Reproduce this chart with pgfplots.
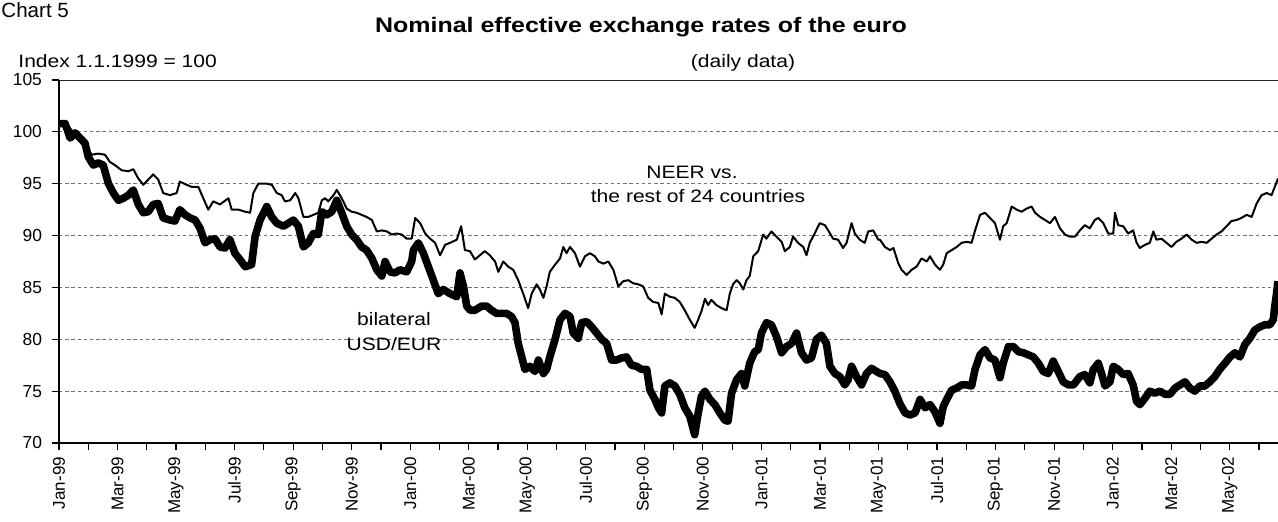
\documentclass[border=0pt]{standalone}
\usepackage{fontspec}
\usepackage{pgfplots}
\pgfplotsset{compat=1.18}
\setmainfont{Liberation Sans}
\newfontfamily\widefont[FakeStretch=1.17]{Liberation Sans}
\newfontfamily\titlefont[FakeStretch=1.19]{Liberation Sans}

% 1 px of the reference = 0.5pt; axis box lower-left = origin
\begin{document}
\begin{tikzpicture}
\useasboundingbox (-29.5pt,-39pt) rectangle (609.5pt,221.5pt);
\begin{axis}[
    at={(0,0)}, anchor=south west,
    scale only axis, width=609.5pt, height=181.5pt,
    xmin=0, xmax=41.65, ymin=70, ymax=105,
    axis x line*=bottom, axis y line*=left,
    axis line style={black, line width=0.8pt, -},
    ytick={70,75,...,105},
    xtick={0,2,...,40},
    minor xtick={1,3,...,41},
    xticklabels={Jan-99,Mar-99,May-99,Jul-99,Sep-99,Nov-99,Jan-00,Mar-00,May-00,Jul-00,Sep-00,Nov-00,Jan-01,Mar-01,May-01,Jul-01,Sep-01,Nov-01,Jan-02,Mar-02,May-02},
    xticklabel style={rotate=90, anchor=east, font=\fontsize{8.5}{10}\selectfont},
    yticklabel style={font=\fontsize{8.7}{10}\selectfont, xshift=-1.5pt},
    /pgf/number format/assume math mode=true,
    tick align=outside,
    major tick length=3.5pt, minor tick length=3.5pt,
    tick style={black, line width=0.6pt},
    ymajorgrids,
    grid style={black!55, line width=0.45pt, dash pattern=on 1.7pt off 1.4pt},
    clip=true,
]
\draw[black!85, line width=0.9pt] (rel axis cs:0,1) -- (rel axis cs:1,1);

% NEER vs. the rest of 24 countries
\addplot[black, line width=1pt, line join=round] coordinates {
(0.00,100.8) (0.32,100.5) (0.66,99.5) (0.89,98.7) (1.12,97.8) (1.34,97.9) (1.57,97.8) (1.74,97.1) (1.91,96.8) (2.14,96.3) (2.37,96.2) (2.54,96.4) (2.71,95.5) (2.88,94.9) (3.05,95.4) (3.22,95.9) (3.39,95.4) (3.56,94.1) (3.79,93.9) (4.02,94.1) (4.13,95.2) (4.36,94.9) (4.53,94.7) (4.76,94.7) (4.93,93.6) (5.10,92.5) (5.27,93.3) (5.50,93.0) (5.79,93.6) (5.90,92.5) (6.13,92.5) (6.36,92.3) (6.53,92.2) (6.64,94.1) (6.81,95.0)
(7.10,95.0) (7.27,94.9) (7.44,94.1) (7.61,93.9) (7.72,93.3) (7.90,93.4) (8.07,94.1) (8.18,93.6) (8.35,91.8) (8.52,91.8) (8.69,92.0) (8.86,92.2) (8.98,93.4) (9.09,93.6) (9.20,93.3) (9.38,93.9) (9.49,94.4) (9.66,93.6) (9.83,92.6) (10.00,92.3) (10.17,92.2) (10.34,92.0) (10.51,91.8) (10.69,91.5) (10.86,90.4) (11.03,90.5) (11.20,90.4) (11.37,90.1) (11.54,90.2) (11.71,90.1) (11.88,89.7) (12.05,89.7) (12.17,91.7) (12.34,91.2) (12.51,90.2) (12.68,89.7) (12.85,89.3) (13.02,88.1) (13.19,89.1) (13.36,89.3) (13.59,89.6) (13.74,90.9) (13.87,88.6)
(14.04,88.5) (14.21,87.7) (14.38,88.1) (14.55,88.5) (14.72,88.1) (14.90,87.5) (15.01,86.5) (15.18,87.5) (15.35,87.0) (15.52,86.7) (15.69,85.7) (15.86,84.4) (16.03,83.0) (16.15,84.4) (16.32,85.3) (16.43,84.8) (16.55,84.0) (16.66,85.1) (16.77,86.5) (16.95,87.2) (17.12,87.8) (17.23,88.9) (17.34,88.3) (17.46,88.9) (17.63,88.3) (17.80,87.0) (17.97,88.0) (18.14,88.3) (18.31,88.0) (18.43,87.5) (18.60,87.3) (18.77,87.5) (18.94,86.7) (19.11,85.1) (19.28,85.6) (19.45,85.7) (19.62,85.4) (19.79,85.3) (19.96,85.1) (20.13,84.0) (20.30,83.6) (20.48,83.5) (20.59,82.4) (20.70,84.4) (20.87,84.1)
(21.04,84.0) (21.21,83.6) (21.38,82.8) (21.55,81.9) (21.72,81.1) (21.84,81.9) (21.95,82.7) (22.07,83.9) (22.18,83.3) (22.29,83.8) (22.46,83.3) (22.64,83.0) (22.81,82.8) (22.92,84.4) (23.03,85.3) (23.15,85.7) (23.26,85.4) (23.38,84.8) (23.49,85.7) (23.60,86.1) (23.72,88.0) (23.89,88.5) (24.06,90.1) (24.17,89.7) (24.34,90.4) (24.51,89.9) (24.69,89.4) (24.80,88.5) (24.97,88.9) (25.08,89.9) (25.25,89.3) (25.43,88.9) (25.54,88.1) (25.65,89.3) (25.82,90.2) (25.99,91.2) (26.17,91.0) (26.28,90.5) (26.45,89.7) (26.62,89.6) (26.79,88.8) (26.91,89.3) (27.08,91.2) (27.19,90.2) (27.36,89.6) (27.53,89.3) (27.65,90.4) (27.82,90.5) (27.99,89.6)
(28.05,89.6) (28.22,88.9) (28.39,88.6) (28.51,88.8) (28.68,87.3) (28.79,86.7) (28.96,86.2) (29.13,86.7) (29.30,87.0) (29.47,87.8) (29.65,87.5) (29.76,88.0) (29.93,87.2) (30.10,86.7) (30.21,87.2) (30.33,88.3) (30.50,88.6) (30.67,88.9) (30.84,89.3) (31.01,89.4) (31.18,89.3) (31.30,90.5) (31.47,92.0) (31.64,92.2) (31.81,91.7) (31.98,91.2) (32.15,89.6) (32.26,90.9) (32.38,91.2) (32.55,92.8) (32.72,92.5) (32.89,92.3) (33.06,92.6) (33.23,92.8) (33.35,92.2) (33.52,91.8) (33.69,91.5) (33.86,91.2) (34.03,91.8) (34.20,90.7) (34.37,90.1) (34.54,89.9)
(34.71,89.9) (34.88,90.5) (35.05,91.0) (35.22,90.7) (35.39,91.5) (35.51,91.7) (35.68,91.2) (35.85,90.2) (36.02,90.2) (36.08,92.2) (36.19,91.0) (36.36,90.9) (36.53,90.2) (36.70,90.5) (36.82,89.3) (36.93,88.8) (37.10,89.1) (37.27,89.3) (37.39,90.4) (37.50,89.6) (37.67,89.7) (37.84,89.3) (38.01,88.9) (38.18,89.4) (38.35,89.7) (38.53,90.1) (38.70,89.6) (38.87,89.3) (39.04,89.4) (39.21,89.3) (39.38,89.7) (39.55,90.1) (39.72,90.4) (39.89,90.9) (40.06,91.4) (40.23,91.5) (40.40,91.7) (40.58,92.0) (40.75,91.8) (40.92,93.1) (41.09,93.9) (41.26,94.1) (41.43,93.9) (41.54,94.7) (41.65,95.5)
};

% bilateral USD/EUR
\addplot[black, line width=3.8pt, line join=round] coordinates {
(0.00,100.8) (0.21,100.8) (0.38,99.4) (0.55,99.9) (0.72,99.4) (0.89,98.9) (1.00,97.6) (1.17,96.8) (1.34,97.0) (1.51,96.8) (1.69,95.0) (1.86,94.1) (2.03,93.4) (2.20,93.6) (2.37,93.9) (2.54,94.4) (2.71,93.0) (2.88,92.2) (3.05,92.3) (3.22,93.0) (3.39,93.1) (3.56,91.7) (3.79,91.5) (3.96,91.4) (4.13,92.5) (4.31,92.0) (4.48,91.7) (4.65,91.5) (4.82,90.7) (4.99,89.3) (5.16,89.6) (5.33,89.7) (5.50,88.9) (5.67,88.8) (5.84,89.6) (6.01,88.3) (6.18,87.7) (6.36,87.0) (6.58,87.2) (6.70,89.9) (6.87,91.5)
(7.10,92.8) (7.27,91.8) (7.44,91.2) (7.67,90.9) (7.84,91.2) (8.01,91.5) (8.18,90.9) (8.35,88.9) (8.52,89.3) (8.69,90.2) (8.86,90.1) (8.98,92.3) (9.15,92.0) (9.32,92.3) (9.49,93.4) (9.66,92.2) (9.83,90.9) (10.00,90.1) (10.17,89.6) (10.34,88.9) (10.51,88.6) (10.69,87.8) (10.86,86.7) (11.03,86.1) (11.14,87.5) (11.31,86.5) (11.48,86.4) (11.65,86.7) (11.88,86.5) (12.05,87.5) (12.11,88.6) (12.28,89.3) (12.45,88.3) (12.62,87.0) (12.79,85.7) (12.96,84.4) (13.13,84.8) (13.36,84.4) (13.59,84.1) (13.70,86.4) (13.82,85.1) (13.93,83.2) (14.05,82.8)
(14.21,82.8) (14.44,83.2) (14.61,83.2) (14.78,82.8) (14.95,82.5) (15.12,82.5) (15.29,82.5) (15.46,82.2) (15.58,81.6) (15.69,79.6) (15.81,78.3) (15.92,77.1) (16.09,77.4) (16.26,76.9) (16.38,78.0) (16.55,76.7) (16.66,77.1) (16.77,78.3) (16.95,80.0) (17.12,81.9) (17.29,82.5) (17.46,82.2) (17.57,80.6) (17.74,80.1) (17.86,81.6) (18.03,81.7) (18.20,81.2) (18.37,80.6) (18.54,80.0) (18.71,79.6) (18.88,78.0) (19.05,78.0) (19.22,78.2) (19.39,78.3) (19.56,77.5) (19.73,77.4) (19.90,77.1) (20.08,77.1) (20.19,75.1) (20.36,74.2) (20.48,73.4) (20.59,72.9) (20.70,75.5) (20.87,75.8)
(21.04,75.5) (21.21,74.7) (21.38,73.4) (21.55,72.6) (21.72,70.8) (21.84,72.9) (21.95,74.5) (22.07,75.0) (22.24,74.2) (22.41,73.7) (22.58,72.9) (22.75,72.2) (22.86,72.1) (22.98,74.8) (23.15,76.1) (23.32,76.7) (23.43,75.5) (23.60,77.7) (23.77,78.8) (23.89,79.0) (24.00,80.6) (24.17,81.6) (24.34,81.4) (24.51,80.3) (24.69,78.7) (24.86,79.3) (25.03,79.6) (25.20,80.6) (25.37,78.7) (25.54,78.0) (25.71,78.2) (25.88,80.0) (26.05,80.4) (26.22,79.6) (26.34,77.4) (26.51,76.7) (26.68,76.4) (26.85,75.6) (26.96,76.1) (27.08,77.4) (27.25,76.4) (27.42,75.6) (27.59,76.7) (27.76,77.2) (27.93,76.9)
(28.05,76.7) (28.22,76.6) (28.39,75.9) (28.56,75.0) (28.73,73.8) (28.91,72.9) (29.08,72.7) (29.25,72.9) (29.42,74.2) (29.59,73.4) (29.76,73.7) (29.93,73.0) (30.10,71.9) (30.21,73.5) (30.33,74.2) (30.50,75.1) (30.67,75.3) (30.84,75.6) (31.01,75.6) (31.18,75.5) (31.30,77.1) (31.47,78.5) (31.64,79.0) (31.81,78.2) (31.98,78.0) (32.15,76.3) (32.26,77.7) (32.44,79.3) (32.61,79.3) (32.78,78.8) (32.95,78.7) (33.12,78.5) (33.29,78.3) (33.46,77.7) (33.63,76.9) (33.80,76.7) (33.97,77.9) (34.14,76.9) (34.31,75.9) (34.49,75.6) (34.66,75.6)
(34.88,76.4) (35.05,76.6) (35.22,75.8) (35.34,77.1) (35.51,77.7) (35.62,76.7) (35.74,75.5) (35.91,75.9) (36.02,77.4) (36.19,77.1) (36.36,76.6) (36.53,76.7) (36.70,75.6) (36.82,74.0) (36.93,73.7) (37.10,74.3) (37.27,75.0) (37.44,74.8) (37.61,75.0) (37.79,74.7) (37.96,74.7) (38.13,75.3) (38.30,75.6) (38.47,75.9) (38.64,75.3) (38.81,75.0) (38.98,75.5) (39.15,75.5) (39.32,75.9) (39.49,76.4) (39.66,77.1) (39.84,77.7) (40.01,78.3) (40.18,78.7) (40.35,78.3) (40.52,79.5) (40.69,80.1) (40.86,80.9) (41.03,81.2) (41.20,81.4) (41.37,81.4) (41.49,81.9) (41.54,83.2) (41.60,84.4) (41.65,85.6)
};
\end{axis}

\node[anchor=base west, inner sep=0pt, font=\fontsize{10.3}{12}\selectfont] at (-29pt,212.5pt) {Chart 5};
\node[anchor=base, inner sep=0pt, font=\titlefont\bfseries\fontsize{10.5}{12}\selectfont] at (291pt,205pt) {Nominal effective exchange rates of the euro};
\node[anchor=base west, inner sep=0pt, font=\widefont\fontsize{9}{11}\selectfont] at (-20.5pt,188pt) {Index 1.1.1999 = 100};
\node[anchor=base, inner sep=0pt, font=\widefont\fontsize{9}{11}\selectfont] at (342pt,188pt) {(daily data)};
\node[anchor=base, inner sep=0pt, font=\widefont\fontsize{9}{11}\selectfont] at (316.5pt,132.5pt) {NEER vs.};
\node[anchor=base, inner sep=0pt, font=\widefont\fontsize{9}{11}\selectfont] at (319.5pt,120.5pt) {the rest of 24 countries};
\node[anchor=base, inner sep=0pt, font=\widefont\fontsize{9}{11}\selectfont] at (167.5pt,59pt) {bilateral};
\node[anchor=base, inner sep=0pt, font=\widefont\fontsize{9}{11}\selectfont] at (167.5pt,46.5pt) {USD/EUR};
\end{tikzpicture}
\end{document}
